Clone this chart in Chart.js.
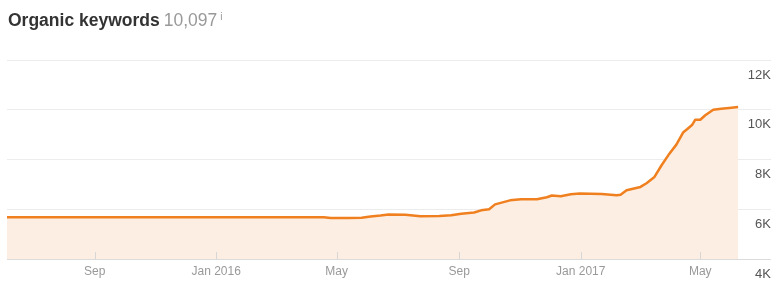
<!DOCTYPE html>
<html><head><meta charset="utf-8">
<script src="https://cdn.jsdelivr.net/npm/chart.js@4.4.1/dist/chart.umd.min.js"></script>
<style>
html,body{margin:0;padding:0;background:#fff;}
#wrap{position:relative;width:784px;height:288px;overflow:hidden;}
#title{position:absolute;left:8px;top:10px;font-family:"Liberation Sans",Arial,sans-serif;font-size:17.5px;color:#333;white-space:nowrap;}
#title b{font-weight:bold;}
#title .num{color:#999;margin-left:4px;}
#title sup{font-size:10px;color:#999;vertical-align:top;position:relative;top:1px;margin-left:3px;}
canvas{position:absolute;left:0;top:0;}
</style></head><body>
<div id="wrap"><canvas id="c" width="784" height="288"></canvas><div id="title"><b>Organic keywords</b><span class="num">10,097</span><sup>i</sup></div></div>
<script>
const dates = ['2015-06-05','2016-04-18','2016-04-25','2016-05-12','2016-05-26','2016-06-04','2016-06-14','2016-06-22','2016-07-09','2016-07-24','2016-08-12','2016-08-24','2016-09-03','2016-09-16','2016-09-23','2016-10-01','2016-10-07','2016-10-22','2016-11-02','2016-11-18','2016-11-28','2016-12-03','2016-12-12','2016-12-22','2016-12-31','2017-01-22','2017-02-06','2017-02-10','2017-02-16','2017-03-02','2017-03-08','2017-03-16','2017-03-23','2017-03-30','2017-04-07','2017-04-14','2017-04-18','2017-04-23','2017-04-26','2017-05-01','2017-05-06','2017-05-14','2017-05-22','2017-05-30','2017-06-08'];
const keywords = [5680,5680,5655,5650,5665,5715,5750,5790,5780,5720,5735,5765,5825,5870,5960,6000,6200,6360,6405,6405,6485,6555,6525,6605,6635,6620,6565,6590,6770,6900,7050,7300,7760,8180,8600,9100,9230,9400,9600,9600,9780,10000,10040,10070,10110];
const tickDates = ['2015-09-01','2016-01-01','2016-05-01','2016-09-01','2017-01-01','2017-05-01'];
const tickLabels = ['Sep','Jan 2016','May','Sep','Jan 2017','May'];
const yTicks = [4000,6000,8000,10000,12000];
const yTickLabels = ['4K','6K','8K','10K','12K'];
const xRange = ['2015-06-05','2017-07-11'];

const day = s => Date.UTC(+s.slice(0,4), +s.slice(5,7)-1, +s.slice(8,10)) / 86400000;
const points = dates.map((d,i)=>({x:day(d), y:keywords[i]}));

const tickMarks = {
  id:'tickMarks',
  afterDatasetsDraw(chart){
    const xs = chart.scales.x, a = chart.chartArea, c = chart.ctx;
    c.save(); c.strokeStyle = '#d6d6d6'; c.lineWidth = 1;
    xs.ticks.forEach(t=>{
      const px = Math.round(xs.getPixelForValue(t.value)) + 0.5;
      c.beginPath(); c.moveTo(px, a.bottom - 7); c.lineTo(px, a.bottom); c.stroke();
    });
    c.restore();
  }
};

new Chart(document.getElementById('c'), {
  type:'line',
  data:{datasets:[{
    data: points,
    borderColor:'#f0801f',
    backgroundColor:'#fdeee3',
    borderWidth:2.5,
    pointRadius:0,
    tension:0,
    fill:'start',
    borderJoinStyle:'round'
  }]},
  options:{
    responsive:false,
    animation:false,
    layout:{padding:{left:7,right:13,top:60,bottom:4.5}},
    plugins:{legend:{display:false},tooltip:{enabled:false}},
    scales:{
      x:{
        type:'linear',
        min: day(xRange[0]), max: day(xRange[1]),
        afterBuildTicks(s){ s.ticks = tickDates.map(d=>({value:day(d)})); },
        ticks:{
          autoSkip:false, maxRotation:0, padding:5,
          color:'#999', font:{family:'"Liberation Sans", Arial, sans-serif', size:12},
          callback(v, i){ return tickLabels[i]; }
        },
        grid:{display:false, drawTicks:false},
        border:{display:false}
      },
      y:{
        type:'linear', position:'right',
        min:4000, max:12000,
        afterBuildTicks(s){ s.ticks = yTicks.map(v=>({value:v})); },
        afterFit(s){ s.width = 0; },
        ticks:{
          mirror:true, padding:0, labelOffset:15,
          color:'#555', font:{family:'"Liberation Sans", Arial, sans-serif', size:13},
          callback(v, i){ return yTickLabels[i]; }
        },
        grid:{
          drawTicks:false,
          color: ctx => (ctx.tick && ctx.tick.value === 4000) ? '#dcdcdc' : '#ececec'
        },
        border:{display:false}
      }
    }
  },
  plugins:[tickMarks]
});
</script>
</body></html>
